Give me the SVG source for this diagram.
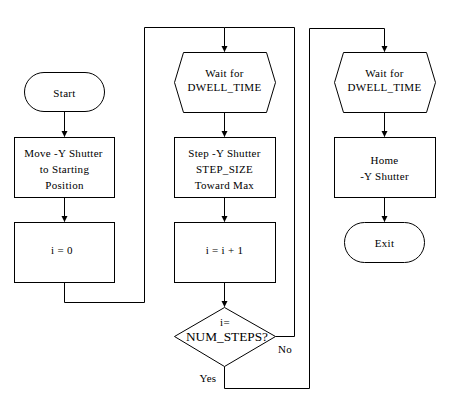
<svg xmlns="http://www.w3.org/2000/svg" width="466" height="402" viewBox="0 0 466 402">
<defs>
<style>
.s{fill:#fff;stroke:#000;stroke-width:1}
.c{fill:none;stroke:#000;stroke-width:1}
text{font-family:"Liberation Serif","Times New Roman",serif;font-size:11px;fill:#000;text-anchor:middle;letter-spacing:0.3px}
</style>
<marker id="a" markerWidth="6" markerHeight="8" refX="5.5" refY="3" orient="auto" markerUnits="userSpaceOnUse" viewBox="0 0 6 6">
<path d="M0,0 L6,3 L0,6 Z" fill="#000"/>
</marker>
</defs>
<rect width="466" height="402" fill="#fff"/>
<g id="connectors">
<path class="c" d="M64.5,111.5 V136.5" marker-end="url(#a)"/>
<path class="c" d="M64.5,197.5 V221.5" marker-end="url(#a)"/>
<path class="c" d="M64.5,282.5 V302.5 H144.5 V27.5 H224.5 V51.5" marker-end="url(#a)"/>
<path class="c" d="M224.5,112.5 V136.5" marker-end="url(#a)"/>
<path class="c" d="M224.5,197.5 V221.5" marker-end="url(#a)"/>
<path class="c" d="M224.5,282.5 V306.5" marker-end="url(#a)"/>
<path class="c" d="M275.5,336.5 H294.5 V27.5 H224.5"/>
<path class="c" d="M224.5,366.5 V388.5 H309.5 V28.5 H384.5 V51.5" marker-end="url(#a)"/>
<path class="c" d="M384.5,112.5 V136.5" marker-end="url(#a)"/>
<path class="c" d="M384.5,197.5 V221.5" marker-end="url(#a)"/>
<text x="285" y="353">No</text>
<text x="208" y="382">Yes</text>
</g>
<g id="start">
<rect class="s" x="24.5" y="72.5" width="80" height="39" rx="19.5"/>
<text x="64.5" y="97">Start</text>
</g>
<g id="move">
<rect class="s" x="14.5" y="137.5" width="100" height="60"/>
<text x="63.5" y="156.5">Move -Y Shutter</text>
<text x="64.5" y="172.5">to Starting</text>
<text x="64.5" y="188.5">Position</text>
</g>
<g id="init">
<rect class="s" x="14.5" y="222.5" width="100" height="60"/>
<text x="62" y="254">i = 0</text>
</g>
<g id="wait1">
<polygon class="s" points="174.5,82.5 183.5,52.5 266.5,52.5 275.5,82.5 266.5,112.5 183.5,112.5"/>
<text x="224.5" y="77">Wait for</text>
<text x="224.5" y="91">DWELL_TIME</text>
</g>
<g id="step">
<rect class="s" x="174.5" y="137.5" width="101" height="60"/>
<text x="224.5" y="156.5">Step -Y Shutter</text>
<text x="224.5" y="172.5">STEP_SIZE</text>
<text x="224.5" y="188.5">Toward Max</text>
</g>
<g id="incr">
<rect class="s" x="174.5" y="222.5" width="101" height="60"/>
<text x="224.5" y="254">i = i + 1</text>
</g>
<g id="decision">
<polygon class="s" points="224.5,307.5 275.5,336.5 224.5,366.5 174.5,336.5"/>
<text x="225" y="326">i=</text>
<text x="227" y="340.5" style="font-size:11.5px;letter-spacing:0" textLength="82" lengthAdjust="spacingAndGlyphs">NUM_STEPS?</text>
</g>
<g id="wait2">
<polygon class="s" points="334.5,82.5 343.5,52.5 426.5,52.5 435.5,82.5 426.5,112.5 343.5,112.5"/>
<text x="384.5" y="77">Wait for</text>
<text x="384.5" y="91">DWELL_TIME</text>
</g>
<g id="home">
<rect class="s" x="334.5" y="137.5" width="101" height="60"/>
<text x="384.5" y="164">Home</text>
<text x="384.5" y="180">-Y Shutter</text>
</g>
<g id="exit">
<rect class="s" x="344.5" y="222.5" width="80" height="40" rx="20"/>
<text x="384.5" y="247">Exit</text>
</g>
</svg>
